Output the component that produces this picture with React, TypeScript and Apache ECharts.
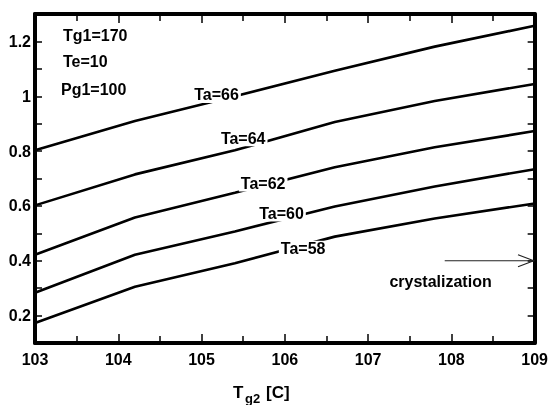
import React, { useEffect, useRef } from "react";
import * as echarts from "echarts";

const xValues = [103, 104.2, 105.4, 106.6, 107.8, 109];
const ta66 = [0.803, 0.91, 1.0, 1.093, 1.181, 1.257];
const ta64 = [0.602, 0.715, 0.803, 0.906, 0.983, 1.045];
const ta62 = [0.422, 0.558, 0.648, 0.741, 0.814, 0.873];
const ta60 = [0.283, 0.422, 0.507, 0.598, 0.671, 0.734];
const ta58 = [0.173, 0.305, 0.391, 0.488, 0.554, 0.609];
const seriesNames = ["Ta=66", "Ta=64", "Ta=62", "Ta=60", "Ta=58"];
const seriesValues = [ta66, ta64, ta62, ta60, ta58];

// label anchors in data coordinates
const labelX = [105.18, 105.5, 105.74, 105.96, 106.22];
const labelY = [1.005, 0.847, 0.682, 0.572, 0.444];

const arrowShaft = [[107.92, 0.4], [109, 0.4]];
const arrowHead = [[108.8, 0.422], [108.99, 0.4], [108.8, 0.378]];
const arrowText = "crystalization";
const arrowTextPos = [107.87, 0.323];

const params = ["Tg1=170", "Te=10", "Pg1=100"];

const FONT = "'Liberation Sans', Arial, sans-serif";

export default function App() {
  const ref = useRef<HTMLDivElement>(null);
  useEffect(() => {
    if (!ref.current) return;
    const chart = echarts.init(ref.current, undefined, { renderer: "svg" });
    const lineSeries = seriesValues.map((vals, i) => ({
      type: "line",
      name: seriesNames[i],
      data: xValues.map((x, j) => [x, vals[j]]),
      symbol: "none",
      lineStyle: { color: "#000", width: 2.6 },
      emphasis: { disabled: true },
      z: 2,
    }));
    const labelData = seriesNames.map((n, i) => ({ value: [labelX[i], labelY[i]], name: n }));
    labelData.push({ value: arrowTextPos, name: arrowText });
    const xAxisBase = {
      type: "value",
      min: 103,
      max: 109,
      interval: 1,
      splitLine: { show: false },
      axisLine: { show: true, lineStyle: { color: "#000", width: 4 } },
      axisTick: { show: true, inside: true, length: 9, lineStyle: { color: "#000", width: 1.5 } },
      minorTick: { show: true, splitNumber: 2, length: 7, lineStyle: { color: "#000", width: 1.5 } },
    };
    const yAxisBase = {
      type: "value",
      min: 0.1,
      max: 1.3,
      interval: 0.1,
      splitLine: { show: false },
      axisLine: { show: true, lineStyle: { color: "#000", width: 4 } },
      axisTick: { show: true, inside: true, length: 7, lineStyle: { color: "#000", width: 1.5 } },
    };
    const option = {
      animation: false,
      grid: { left: 35, right: 15, top: 14, bottom: 62, containLabel: false },
      xAxis: [
        {
          ...xAxisBase,
          position: "bottom",
          axisLabel: {
            show: true,
            margin: 8,
            color: "#000",
            fontSize: 16,
            fontWeight: "bold",
            fontFamily: FONT,
            formatter: (v: number) => String(v),
          },
        },
        { ...xAxisBase, position: "top", axisLabel: { show: false } },
      ],
      yAxis: [
        {
          ...yAxisBase,
          position: "left",
          axisLabel: {
            show: true,
            margin: 4,
            color: "#000",
            fontSize: 16,
            fontWeight: "bold",
            fontFamily: FONT,
            formatter: (v: number) => {
              const k = Math.round(v * 10);
              if (k % 2 !== 0 || k === 0 || k >= 13) return "";
              return String(+(k / 10).toFixed(1));
            },
          },
        },
        { ...yAxisBase, position: "right", axisLabel: { show: false } },
      ],
      series: [
        ...lineSeries,
        {
          type: "line",
          data: arrowShaft,
          symbol: "none",
          lineStyle: { color: "#222", width: 1.2 },
          emphasis: { disabled: true },
          z: 2,
        },
        {
          type: "line",
          data: arrowHead,
          symbol: "none",
          lineStyle: { color: "#222", width: 1.2 },
          emphasis: { disabled: true },
          z: 2,
        },
        {
          type: "scatter",
          data: labelData,
          symbolSize: 0,
          itemStyle: { color: "#fff", opacity: 1 },
          emphasis: { disabled: true },
          z: 5,
          label: {
            show: true,
            position: "inside",
            formatter: (p: any) => p.name,
            color: "#000",
            opacity: 1,
            fontSize: 16,
            fontWeight: "bold",
            fontFamily: FONT,
            backgroundColor: "#fff",
            padding: [0, 2],
          },
        },
      ],
      graphic: [
        ...params.map((t, i) => ({
          type: "text",
          x: i === 2 ? 61 : 63,
          y: [35.5, 61.5, 89.5][i],
          style: {
            text: t,
            fill: "#000",
            font: `bold 16px ${FONT}`,
            textVerticalAlign: "middle",
          },
        })),
        {
          type: "text",
          x: 233,
          y: 392.5,
          style: { text: "T", fill: "#000", font: `bold 17px ${FONT}`, textVerticalAlign: "middle" },
        },
        {
          type: "text",
          x: 245,
          y: 398.5,
          style: { text: "g2", fill: "#000", font: `bold 13px ${FONT}`, textVerticalAlign: "middle" },
        },
        {
          type: "text",
          x: 266,
          y: 392.5,
          style: { text: "[C]", fill: "#000", font: `bold 17px ${FONT}`, textVerticalAlign: "middle" },
        },
      ],
    };
    chart.setOption(option as any);
    return () => chart.dispose();
  }, []);
  return (
    <div
      ref={ref}
      style={{ position: "fixed", left: 0, top: 0, width: 551, height: 405 }}
    />
  );
}
